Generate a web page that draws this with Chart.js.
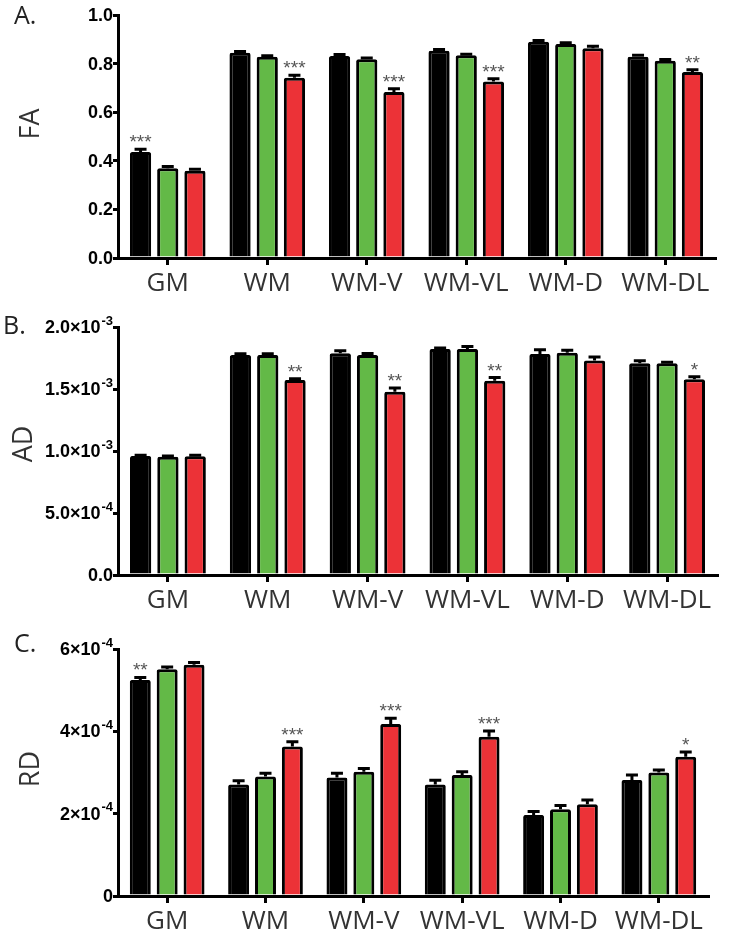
<!DOCTYPE html>
<html>
<head>
<meta charset="utf-8">
<script src="https://cdn.jsdelivr.net/npm/chart.js@4.4.1/dist/chart.umd.min.js"></script>
<style>
  body { margin: 0; background: #fff; }
  #page { position: relative; width: 736px; height: 938px; overflow: hidden; }
  .panel { position: absolute; left: 0; width: 736px; }
  .letter { position: absolute; font-family: "Open Sans", sans-serif; font-size: 25px; color: #222; line-height: 1; }
  .ytitle { position: absolute; font-family: "Open Sans", sans-serif; font-size: 27px; color: #333; line-height: 1;
            transform: translate(-50%, -50%) rotate(-90deg); white-space: nowrap; }
</style>
</head>
<body>
<div id="page">
  <div class="panel" style="top:0;height:305px"><canvas id="chartA"></canvas></div>
  <div class="panel" style="top:305px;height:315px"><canvas id="chartB"></canvas></div>
  <div class="panel" style="top:620px;height:318px"><canvas id="chartC"></canvas></div>
  <div class="letter" style="left:14px;top:2px">A.</div>
  <div class="letter" style="left:3px;top:312px">B.</div>
  <div class="letter" style="left:14px;top:630px">C.</div>
  <div class="ytitle" style="left:28px;top:124px">FA</div>
  <div class="ytitle" style="left:21px;top:444px">AD</div>
  <div class="ytitle" style="left:28px;top:769px">RD</div>
</div>
<script>
const categories = ['GM', 'WM', 'WM-V', 'WM-VL', 'WM-D', 'WM-DL'];

// A. FA
const faBlack = [0.436, 0.845, 0.831, 0.853, 0.890, 0.828];
const faGreen = [0.369, 0.828, 0.818, 0.834, 0.881, 0.812];
const faRed   = [0.359, 0.742, 0.683, 0.726, 0.863, 0.765];
const faBlackErr = [0.012, 0.005, 0.006, 0.005, 0.005, 0.006];
const faGreenErr = [0.008, 0.004, 0.005, 0.004, 0.005, 0.005];
const faRedErr   = [0.006, 0.010, 0.013, 0.012, 0.008, 0.010];
const faBlackStars = ['***', '', '', '', '', ''];
const faRedStars   = ['', '***', '***', '***', '', '**'];
const faTicks = ['0.0', '0.2', '0.4', '0.6', '0.8', '1.0'];

// B. AD
const adBlack = [0.960e-3, 1.774e-3, 1.788e-3, 1.823e-3, 1.782e-3, 1.707e-3];
const adGreen = [0.954e-3, 1.775e-3, 1.774e-3, 1.823e-3, 1.793e-3, 1.707e-3];
const adRed   = [0.957e-3, 1.573e-3, 1.478e-3, 1.567e-3, 1.729e-3, 1.578e-3];
const adBlackErr = [0.005e-3, 0.010e-3, 0.020e-3, 0.008e-3, 0.035e-3, 0.020e-3];
const adGreenErr = [0.005e-3, 0.010e-3, 0.012e-3, 0.020e-3, 0.020e-3, 0.008e-3];
const adRedErr   = [0.008e-3, 0.010e-3, 0.030e-3, 0.025e-3, 0.030e-3, 0.020e-3];
const adBlackStars = ['', '', '', '', '', ''];
const adRedStars   = ['', '**', '**', '**', '', '*'];
const adTicks = ['0.0', '5.0×10^-4', '1.0×10^-3', '1.5×10^-3', '2.0×10^-3'];

// C. RD
const rdBlack = [5.25e-4, 2.71e-4, 2.88e-4, 2.71e-4, 1.97e-4, 2.82e-4];
const rdGreen = [5.51e-4, 2.90e-4, 3.02e-4, 2.94e-4, 2.11e-4, 3.00e-4];
const rdRed   = [5.62e-4, 3.63e-4, 4.18e-4, 3.87e-4, 2.23e-4, 3.38e-4];
const rdBlackErr = [0.06e-4, 0.09e-4, 0.10e-4, 0.10e-4, 0.08e-4, 0.12e-4];
const rdGreenErr = [0.05e-4, 0.08e-4, 0.08e-4, 0.08e-4, 0.09e-4, 0.06e-4];
const rdRedErr   = [0.05e-4, 0.12e-4, 0.14e-4, 0.14e-4, 0.10e-4, 0.12e-4];
const rdBlackStars = ['**', '', '', '', '', ''];
const rdRedStars   = ['', '***', '***', '***', '', '*'];
const rdTicks = ['0', '2×10^-4', '4×10^-4', '6×10^-4'];

const BLACK = '#000000';
const GREEN = '#63b947';
const RED = '#ec3237';

// error bar caps + significance stars
const errorBars = {
  id: 'errorBars',
  afterDatasetsDraw(chart) {
    const ctx = chart.ctx;
    const y = chart.scales.y;
    chart.data.datasets.forEach((ds, i) => {
      const meta = chart.getDatasetMeta(i);
      meta.data.forEach((bar, j) => {
        const top = y.getPixelForValue(ds.data[j] + ds.errors[j]);
        ctx.save();
        ctx.strokeStyle = '#000';
        ctx.lineWidth = 3;
        ctx.beginPath();
        ctx.moveTo(bar.x, bar.y);
        ctx.lineTo(bar.x, top);
        ctx.moveTo(bar.x - 6, top);
        ctx.lineTo(bar.x + 6, top);
        ctx.stroke();
        const s = ds.stars[j];
        if (s) {
          ctx.fillStyle = '#555';
          ctx.font = '19px "Liberation Sans", Arial, sans-serif';
          ctx.textAlign = 'center';
          ctx.textBaseline = 'alphabetic';
          ctx.fillText(s, bar.x, top - 1);
        }
        ctx.restore();
      });
    });
  }
};

// y tick labels with real superscript exponents
const yLabels = {
  id: 'yLabels',
  afterDraw(chart) {
    const ctx = chart.ctx;
    const y = chart.scales.y;
    const labels = chart.options.plugins.yLabels.labels;
    const baseFont = 'bold 18px "Liberation Sans", Arial, sans-serif';
    const supFont = 'bold 13px "Liberation Sans", Arial, sans-serif';
    ctx.save();
    ctx.fillStyle = '#000';
    ctx.textBaseline = 'middle';
    ctx.textAlign = 'left';
    y.ticks.forEach((t, i) => {
      const py = y.getPixelForTick(i);
      const parts = labels[i].split('^');
      ctx.font = baseFont;
      const w1 = ctx.measureText(parts[0]).width;
      let w2 = 0;
      if (parts[1]) {
        ctx.font = supFont;
        w2 = ctx.measureText(parts[1]).width + 1;
      }
      const x0 = 113 - w1 - w2;
      ctx.font = baseFont;
      ctx.fillText(parts[0], x0, py + 1);
      if (parts[1]) {
        ctx.font = supFont;
        ctx.fillText(parts[1], x0 + w1 + 1, py - 6);
      }
    });
    ctx.restore();
  }
};

function makeChart(id, black, green, red, errs, stars, tickLabels, yMax, step, xHeight, padTop, padRight) {
  new Chart(document.getElementById(id), {
    type: 'bar',
    data: {
      labels: categories,
      datasets: [
        { label: 'black', data: black, errors: errs[0], stars: stars[0], backgroundColor: BLACK },
        { label: 'green', data: green, errors: errs[1], stars: ['', '', '', '', '', ''], backgroundColor: GREEN },
        { label: 'red', data: red, errors: errs[2], stars: stars[1], backgroundColor: RED }
      ]
    },
    options: {
      responsive: true,
      maintainAspectRatio: false,
      animation: false,
      layout: { padding: { top: padTop, right: padRight, left: 0, bottom: 0 } },
      datasets: {
        bar: {
          borderColor: '#000',
          borderWidth: 3,
          borderRadius: { topLeft: 2, topRight: 2 },
          categoryPercentage: 0.82,
          barPercentage: 0.78
        }
      },
      plugins: { legend: { display: false }, tooltip: { enabled: false }, yLabels: { labels: tickLabels } },
      scales: {
        x: {
          grid: { display: true, drawOnChartArea: false, offset: false, color: '#000', lineWidth: 3, tickLength: 7 },
          border: { color: '#000', width: 3 },
          ticks: { color: '#333', padding: 3, font: { family: 'Open Sans', size: 26 } },
          afterFit(scale) { scale.height = xHeight; }
        },
        y: {
          min: 0,
          max: yMax,
          grid: { display: true, drawOnChartArea: false, color: '#000', lineWidth: 3, tickLength: 5 },
          border: { color: '#000', width: 3 },
          ticks: {
            stepSize: step,
            color: 'rgba(0,0,0,0)',
            padding: 1,
            font: { family: 'Liberation Sans', size: 16, weight: 'bold' },
            callback: (v, i) => tickLabels[i].replace('^', '')
          },
          afterFit(scale) { scale.width = 118; }
        }
      }
    },
    plugins: [errorBars, yLabels]
  });
}

makeChart('chartA', faBlack, faGreen, faRed,
  [faBlackErr, faGreenErr, faRedErr], [faBlackStars, faRedStars], faTicks, 1.0, 0.2, 47, 15, 21);
makeChart('chartB', adBlack, adGreen, adRed,
  [adBlackErr, adGreenErr, adRedErr], [adBlackStars, adRedStars], adTicks, 0.002, 0.0005, 45, 22, 19);
makeChart('chartC', rdBlack, rdGreen, rdRed,
  [rdBlackErr, rdGreenErr, rdRedErr], [rdBlackStars, rdRedStars], rdTicks, 6e-4, 2e-4, 42, 29, 28);
</script>
</body>
</html>
